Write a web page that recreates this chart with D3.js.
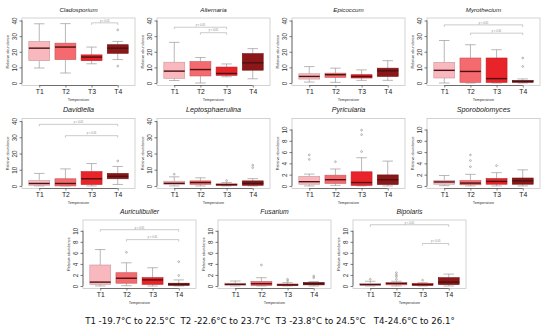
<!DOCTYPE html>
<html>
<head>
<meta charset="utf-8">
<script src="https://cdn.jsdelivr.net/npm/d3@7"></script>
<style>
  body { margin: 0; background: #fff; }
  svg { display: block; }
</style>
</head>
<body>
<div id="chart"></div>
<script>
const treatments = ["T1", "T2", "T3", "T4"];
const genera = ["Cladosporium", "Alternaria", "Epicoccum", "Myrothecium",
    "Davidiella", "Leptosphaerulina", "Pyricularia", "Sporobolomyces",
    "Auriculibuller", "Fusarium", "Bipolaris"];
const yMaxes = [40, 40, 40, 40, 40, 40, 11.5, 11.5, 11.5, 11.5, 11.5];

// [lower whisker, Q1, median, Q3, upper whisker] per treatment
const cladosporium = [[9.6, 14.3, 22.3, 26.6, 37.9], [6.4, 15, 23, 25.5, 38], [12.3, 14.3, 16.6, 18, 23], [15, 19, 22.3, 24.5, 26.6]];
const alternaria = [[1.6, 3, 7.6, 13.3, 26], [0, 4.5, 8.6, 13.7, 16.3], [4, 4.9, 6.1, 10.2, 12.2], [2.7, 8.2, 12.9, 18.8, 22]];
const epicoccum = [[0.6, 2.5, 4.2, 5.9, 10.5], [0.4, 3.6, 5.3, 6.3, 9.5], [1.7, 3.2, 4.2, 5.3, 8.4], [1.7, 4.2, 7.8, 9.5, 14.3]];
const myrothecium = [[0, 3.2, 8.1, 13.2, 27.2], [0, 0.4, 7.4, 16, 24.5], [0, 0.4, 2.8, 16, 21.3], [0, 0.4, 1.1, 1.5, 2.6]];
const davidiella = [[0, 0.4, 1.5, 3.3, 7.7], [0, 0, 1.5, 4.4, 10.5], [0, 0.9, 4.4, 8.8, 13.8], [0.9, 4.4, 5.9, 7.7, 12]];
const leptosphaerulina = [[0, 0.8, 1.6, 2.9, 5.6], [0, 1, 2.1, 3.1, 5], [0, 0.4, 0.8, 1.2, 2.1], [0, 0.4, 1.6, 3.1, 4.5]];
const pyricularia = [[0, 0.3, 0.75, 1.7, 2.1], [0.1, 0.45, 1.1, 1.9, 3], [0, 0.1, 0.6, 2.5, 5], [0, 0.25, 1.1, 1.95, 4.4]];
const sporobolomyces = [[0.05, 0.3, 0.7, 0.95, 1.85], [0, 0.2, 0.5, 0.95, 2.05], [0, 0.3, 0.8, 1.3, 2.35], [0, 0.3, 0.9, 1.4, 2.85]];
const auriculibuller = [[0, 0.3, 0.7, 3.8, 6.6], [0.05, 0.5, 1.4, 2.4, 4.2], [0, 0.3, 1.1, 1.5, 3.3], [0, 0.1, 0.3, 0.5, 1.1]];
const fusarium = [[0, 0.1, 0.3, 0.5, 0.9], [0, 0.1, 0.4, 0.8, 1.5], [0, 0.05, 0.2, 0.35, 0.6], [0, 0.2, 0.4, 0.65, 0.8]];
const bipolaris = [[0, 0.1, 0.25, 0.45, 0.85], [0, 0.2, 0.45, 0.6, 0.85], [0, 0.1, 0.25, 0.45, 0.6], [0, 0.25, 0.7, 1.5, 2.15]];

// outliers per treatment
const cladosporiumOut = [[], [], [], [34, 10.8]];
const alternariaOut = [[], [], [], []];
const epicoccumOut = [[], [], [], []];
const myrotheciumOut = [[], [], [], [16, 10.6]];
const davidiellaOut = [[], [], [], [15.4]];
const leptosphaerulinaOut = [[7.2], [], [3.3], [11.3, 12.8]];
const pyriculariaOut = [[5.5, 4.7], [4.3], [6.1, 9.1, 9.9], []];
const sporobolomycesOut = [[], [5.5, 4.5, 3.4], [3.6], []];
const auriculibullerOut = [[], [6.1], [], [4.4, 1.9]];
const fusariumOut = [[], [3.8], [1.2, 0.9], [1.8, 1.5]];
const bipolarisOut = [[1.2], [2.4, 2, 1.7, 1.2], [1.05], []];

// significance brackets: [from, to, height]
const cladosporiumSig = [["T3", "T4", 38.5]];
const alternariaSig = [["T1", "T3", 35.7], ["T2", "T3", 32.2]];
const myrotheciumSig = [["T1", "T4", 37.2], ["T2", "T4", 31.9]];
const davidiellaSig = [["T1", "T4", 38], ["T2", "T4", 31]];
const auriculibullerSig = [["T1", "T4", 10.2], ["T2", "T4", 8.4]];
const bipolarisSig = [["T1", "T4", 11.1], ["T3", "T4", 7.7]];

const caption = "T1 -19.7°C to 22.5°C  T2 -22.6°C to 23.7°C  T3 -23.8°C to 24.5°C   T4-24.6°C to 26.1°";
const boxColors = ["#f9b8be", "#f56a6e", "#e8242a", "#8b1718"];

const panels = [
    [cladosporium, cladosporiumOut, cladosporiumSig],
    [alternaria, alternariaOut, alternariaSig],
    [epicoccum, epicoccumOut, []],
    [myrothecium, myrotheciumOut, myrotheciumSig],
    [davidiella, davidiellaOut, davidiellaSig],
    [leptosphaerulina, leptosphaerulinaOut, []],
    [pyricularia, pyriculariaOut, []],
    [sporobolomyces, sporobolomycesOut, []],
    [auriculibuller, auriculibullerOut, auriculibullerSig],
    [fusarium, fusariumOut, []],
    [bipolaris, bipolarisOut, bipolarisSig]
].map((p, i) => ({ name: genera[i], yMax: yMaxes[i], stats: p[0], out: p[1], sig: p[2] }));

const width = 550, height = 329;
const rows = [
    { top: 18, h: 67.5, left: 22, size: 6.2 },
    { top: 118.5, h: 70, left: 22, size: 7.2 },
    { top: 220, h: 68.5, left: 83, size: 6.8 }
];
const frameW = 113, colStep = 135;

const svg = d3.select("#chart").append("svg")
    .attr("width", width)
    .attr("height", height)
    .style("font-family", "Liberation Sans, Arial, sans-serif");

panels.forEach((p, i) => {
    const r = i < 4 ? 0 : i < 8 ? 1 : 2;
    const c = r === 2 ? i - 8 : i % 4;
    const row = rows[r];
    const left = row.left + c * colStep;
    const top = row.top, bottom = row.top + row.h;

    const x = d3.scaleLinear().domain([0.34, 4.66]).range([left, left + frameW]);
    const y = d3.scaleLinear().domain([-0.04 * p.yMax, 1.04 * p.yMax]).range([bottom, top]);
    const ticks = p.yMax === 40 ? [0, 10, 20, 30, 40] : [0, 2, 4, 6, 8, 10];
    const xi = t => x(treatments.indexOf(t) + 1);

    const g = svg.append("g");

    g.append("rect")
        .attr("x", left).attr("y", top)
        .attr("width", frameW).attr("height", row.h)
        .attr("fill", "none").attr("stroke", "#c8c8c8").attr("stroke-width", 0.8);

    g.append("text")
        .attr("x", left + frameW / 2).attr("y", top - 6.5)
        .attr("text-anchor", "middle")
        .style("font-size", row.size + "px").style("font-style", "italic")
        .attr("fill", "#222")
        .text(p.name);

    // y axis
    const yAxis = g.append("g")
        .attr("transform", `translate(${left},0)`)
        .call(d3.axisLeft(y).tickValues(ticks).tickSize(2.5).tickFormat(d3.format("d")));
    yAxis.select(".domain").remove();
    yAxis.append("line")
        .attr("y1", y(ticks[0])).attr("y2", y(ticks[ticks.length - 1]))
        .attr("stroke", "#444").attr("stroke-width", 0.7);
    yAxis.selectAll(".tick line").attr("stroke", "#444").attr("stroke-width", 0.7);
    yAxis.selectAll(".tick text")
        .attr("x", 0).attr("dy", null)
        .attr("transform", "translate(-5,0) rotate(-90)")
        .attr("text-anchor", "middle")
        .style("font-size", "6.3px").attr("fill", "#333");

    g.append("text")
        .attr("transform", `translate(${left - 13},${(top + bottom) / 2}) rotate(-90)`)
        .attr("text-anchor", "middle")
        .style("font-size", "3.8px").attr("fill", "#333")
        .text("Relative abundance");

    // x axis
    const xAxis = g.append("g")
        .attr("transform", `translate(0,${bottom})`)
        .call(d3.axisBottom(x).tickValues([1, 2, 3, 4]).tickSize(2)
            .tickFormat(d => treatments[d - 1]));
    xAxis.select(".domain").remove();
    xAxis.append("line")
        .attr("x1", x(1)).attr("x2", x(4))
        .attr("stroke", "#444").attr("stroke-width", 0.7);
    xAxis.selectAll(".tick line").attr("stroke", "#444").attr("stroke-width", 0.7);
    xAxis.selectAll(".tick text")
        .attr("y", 3.5).attr("dy", "0.71em")
        .style("font-size", "6.8px").attr("fill", "#222");

    g.append("text")
        .attr("x", left + frameW / 2).attr("y", bottom + 15)
        .attr("text-anchor", "middle")
        .style("font-size", "3.8px").attr("fill", "#333")
        .text("Temperature");

    // boxes
    const bw = x(0.4) - x(0);
    p.stats.forEach((s, k) => {
        const cx = x(k + 1);
        const [lo, q1, med, q3, hi] = s;
        g.append("line")
            .attr("x1", cx).attr("x2", cx).attr("y1", y(q3)).attr("y2", y(hi))
            .attr("stroke", "#9a9a9a").attr("stroke-width", 0.7);
        g.append("line")
            .attr("x1", cx).attr("x2", cx).attr("y1", y(q1)).attr("y2", y(lo))
            .attr("stroke", "#9a9a9a").attr("stroke-width", 0.7);
        [lo, hi].forEach(v => g.append("line")
            .attr("x1", cx - bw / 2).attr("x2", cx + bw / 2)
            .attr("y1", y(v)).attr("y2", y(v))
            .attr("stroke", "#9a9a9a").attr("stroke-width", 0.7));
        g.append("rect")
            .attr("x", cx - bw).attr("width", 2 * bw)
            .attr("y", y(q3)).attr("height", Math.max(0.8, y(q1) - y(q3)))
            .attr("fill", boxColors[k])
            .attr("stroke", d3.color(boxColors[k]).darker(0.6)).attr("stroke-width", 0.6);
        g.append("line")
            .attr("x1", cx - bw).attr("x2", cx + bw)
            .attr("y1", y(med)).attr("y2", y(med))
            .attr("stroke", "#4a1212").attr("stroke-width", 1.4);
        p.out[k].forEach(v => g.append("circle")
            .attr("cx", cx).attr("cy", y(v)).attr("r", 0.9)
            .attr("fill", "none").attr("stroke", "#8a8a8a").attr("stroke-width", 0.6));
    });

    // significance brackets
    p.sig.forEach(([a, b, v]) => {
        const yy = y(v);
        g.append("path")
            .attr("d", `M${xi(a)},${yy + 2}V${yy}H${xi(b)}V${yy + 2}`)
            .attr("fill", "none").attr("stroke", "#a8a8a8").attr("stroke-width", 0.6);
        g.append("text")
            .attr("x", (xi(a) + xi(b)) / 2).attr("y", yy - 1.2)
            .attr("text-anchor", "middle")
            .style("font-size", "2.6px").attr("fill", "#888")
            .text("p < 0.05");
    });
});

svg.append("text")
    .attr("x", 270).attr("y", 323.5)
    .attr("text-anchor", "middle")
    .style("font-size", "8.65px")
    .style("font-family", "DejaVu Sans, sans-serif")
    .style("white-space", "pre")
    .attr("xml:space", "preserve")
    .attr("fill", "#111")
    .text(caption);
</script>
</body>
</html>
